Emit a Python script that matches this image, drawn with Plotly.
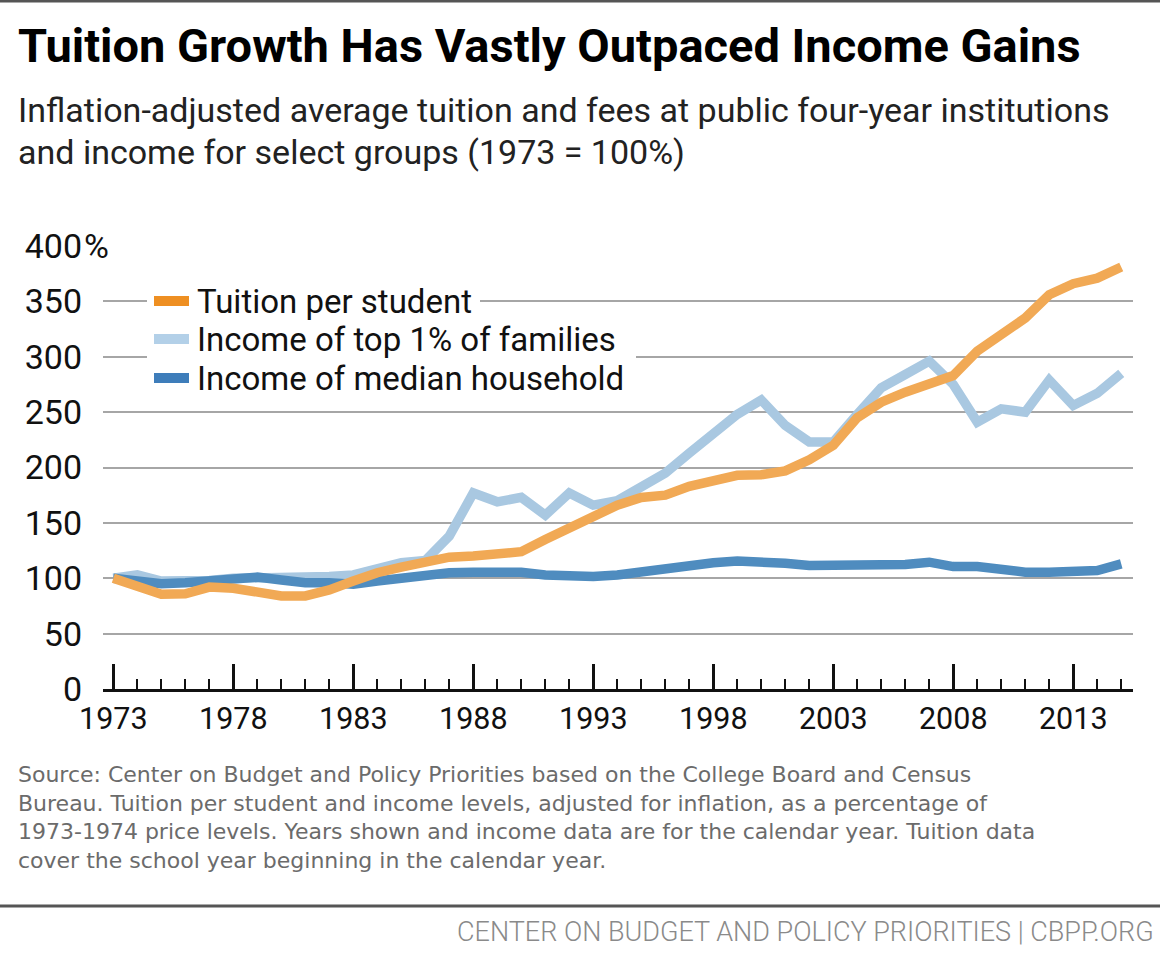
import plotly.graph_objects as go

years = list(range(1973, 2016))
tuition = [100, 93, 85.5, 86, 92, 91, 87.5, 84, 84, 89.5, 97.5, 105, 110, 115, 119, 120, 121.5, 124,
           135, 146, 157, 166, 173, 175, 183, 188.5, 193, 193.5, 197, 207, 220, 245, 259, 268, 276,
           283, 305, 320, 335, 356, 366, 371, 381]
top1 = [100, 103, 97.5, 97, 98, 100, 100, 101, 100, 101.5, 103, 109, 114, 116, 138, 177, 169, 173,
        157, 177, 166, 170, 183, 195, 213, 231, 248, 261, 238, 223, 223, 248, 272, 284, 296, 275,
        241, 253, 250, 279, 256, 267, 285]
median = [100, 97, 95, 96, 98, 101, 101, 98.5, 96, 96, 94.5, 97.5, 100.5, 103.5, 105, 105.5, 106.5,
          105.5, 103, 101.5, 101.5, 103, 106, 108, 110.5, 114, 115.5, 115.5, 113.5, 111.5, 111.5,
          111.5, 111.5, 112.5, 114.5, 110.5, 110.5, 107.5, 105.5, 105.5, 105.5, 107, 113]

series_names = ["Tuition per student", "Income of top 1% of families", "Income of median household"]
line_colors = ["#F1A955", "#A9C8E1", "#4F8CBF"]
legend_colors = ["#EE8F22", "#B3D0E8", "#3E7DBA"]
y_ticks = [0, 50, 100, 150, 200, 250, 300, 350, 400]
y_ticktext = ["0", "50", "100", "150", "200", "250", "300", "350", "400"]

title = "Tuition Growth Has Vastly Outpaced Income Gains"
subtitle = ["Inflation-adjusted average tuition and fees at public four-year institutions",
            "and income for select groups (1973 = 100%)"]
source = ["Source: Center on Budget and Policy Priorities based on the College Board and Census",
          "Bureau. Tuition per student and income levels, adjusted for inflation, as a percentage of",
          "1973-1974 price levels. Years shown and income data are for the calendar year. Tuition data",
          "cover the school year beginning in the calendar year."]
footer = "CENTER ON BUDGET AND POLICY PRIORITIES | CBPP.ORG"

W, H = 1160, 969
L, R, T, B = 103, 27, 246, 280
PW, PH = W - L - R, H - T - B


def px(x):
    return (x - L) / PW


def py(y):
    return (H - B - y) / PH


FONT = "Roboto"
SRC_FONT = "DejaVu Sans"

fig = go.Figure()
order = [1, 2, 0]
data = [tuition, top1, median]
for i in order:
    fig.add_trace(go.Scatter(x=years, y=data[i], mode="lines", name=series_names[i],
                             line=dict(color=line_colors[i], width=9.5), showlegend=False,
                             hoverinfo="x+y+name"))

shapes = []
annotations = []

# top border
shapes.append(dict(type="line", xref="paper", yref="paper", x0=px(0), x1=px(W), y0=py(1), y1=py(1),
                   line=dict(color="#555555", width=3)))
# footer rule
shapes.append(dict(type="line", xref="paper", yref="paper", x0=px(0), x1=px(W), y0=py(906), y1=py(906),
                   line=dict(color="#555555", width=3)))

# legend backgrounds
shapes.append(dict(type="rect", xref="paper", yref="paper", x0=px(147), x1=px(480), y0=py(284), y1=py(321),
                   fillcolor="white", line=dict(width=0), layer="above"))
shapes.append(dict(type="rect", xref="paper", yref="paper", x0=px(147), x1=px(636), y0=py(321), y1=py(396),
                   fillcolor="white", line=dict(width=0), layer="above"))
legend_y = [301, 339, 378]
for i in range(3):
    shapes.append(dict(type="rect", xref="paper", yref="paper", x0=px(154), x1=px(189),
                       y0=py(legend_y[i] - 5), y1=py(legend_y[i] + 5),
                       fillcolor=legend_colors[i], line=dict(width=0), layer="above"))
    annotations.append(dict(text=series_names[i], xref="paper", yref="paper", x=px(195), y=py(legend_y[i]),
                            xanchor="left", yanchor="middle", showarrow=False,
                            font=dict(family=FONT, size=33, color="#111111")))

# percent sign on top tick
annotations.append(dict(text="%", xref="paper", yref="paper", x=px(81), y=py(246), xanchor="left",
                        yanchor="middle", showarrow=False, bgcolor="white", borderpad=2,
                        font=dict(family=FONT, size=34, color="#111111")))

annotations.append(dict(text="<b>" + title + "</b>", xref="paper", yref="paper", x=px(16), y=py(45),
                        xanchor="left", yanchor="middle", showarrow=False,
                        font=dict(family=FONT, size=47, color="#000000")))
for k, line in enumerate(subtitle):
    annotations.append(dict(text=line, xref="paper", yref="paper", x=px(16), y=py(110 + 42 * k),
                            xanchor="left", yanchor="middle", showarrow=False,
                            font=dict(family=FONT, size=34, color="#222222")))
annotations.append(dict(text="<br>".join(source), xref="paper", yref="paper", x=px(16), y=py(817),
                        xanchor="left", yanchor="middle", align="left", showarrow=False,
                        font=dict(family=SRC_FONT, size=22, color="#6b6b6b")))
annotations.append(dict(text=footer, xref="paper", yref="paper", x=px(1156), y=py(932),
                        xanchor="right", yanchor="middle", showarrow=False,
                        font=dict(family=FONT, size=27, color="#8a8a8a", weight=300)))

fig.update_layout(
    width=W, height=H, margin=dict(l=L, r=R, t=T, b=B, pad=0),
    paper_bgcolor="white", plot_bgcolor="white",
    font=dict(family=FONT, color="#111111"),
    shapes=shapes, annotations=annotations, showlegend=False,
    xaxis=dict(range=[1972.57, 2015.49], tickmode="linear", tick0=1973, dtick=5,
               ticks="inside", ticklen=25, tickwidth=2.5, tickcolor="#111111",
               showline=True, linecolor="#111111", linewidth=3, showgrid=False, zeroline=False,
               tickfont=dict(family=FONT, size=30.5, color="#111111"),
               minor=dict(dtick=1, tick0=1973, ticks="inside", ticklen=10, tickwidth=1.5,
                          tickcolor="#111111", showgrid=False),
               fixedrange=True),
    yaxis=dict(range=[0, 400], tickmode="array", tickvals=y_ticks, ticktext=y_ticktext,
               showgrid=True, gridcolor="#a6a6a6", gridwidth=2, zeroline=False, showline=False,
               ticks="", ticklabelstandoff=20,
               tickfont=dict(family=FONT, size=34, color="#111111"), fixedrange=True),
)

fig.write_html("out.html", config={"displayModeBar": False},
               post_script="document.body.style.margin='0px';document.body.style.padding='0px';")
